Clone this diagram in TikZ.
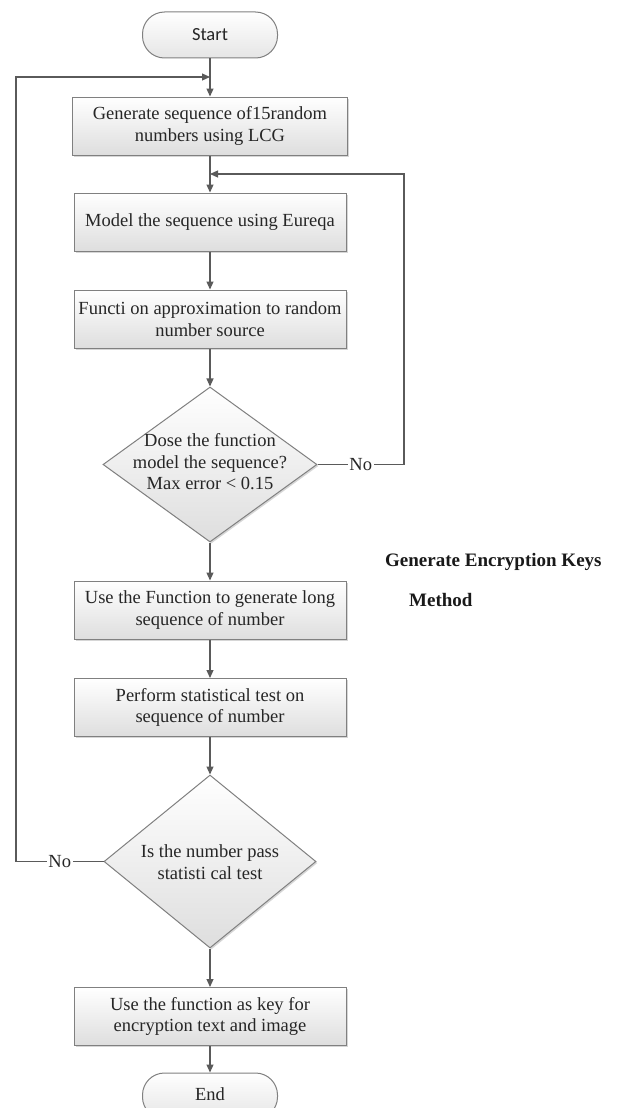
\documentclass[tikz,border=0pt]{standalone}
\usepackage{fontspec}
\setmainfont{Liberation Serif}
\newfontfamily\termfont{Carlito}
\usetikzlibrary{arrows.meta,shapes.geometric,shadows}
\definecolor{linec}{HTML}{5A5A5A}
\definecolor{bordc}{HTML}{808080}
\tikzset{
  boxstyle/.style={draw=bordc, line width=1pt, shading=axis, top color=white, bottom color=black!13,
    minimum width=272pt, minimum height=58pt, inner sep=2pt, align=center,
    font=\fontsize{18.5}{21.5}\selectfont, text=black!85,
    drop shadow={shadow xshift=1.5pt, shadow yshift=-1.5pt, fill=black!35, opacity=0.45}},
  termstyle/.style={draw=bordc, line width=1pt, rectangle, rounded corners=22pt,
    shading=axis, top color=white, bottom color=black!10,
    minimum width=135pt, minimum height=46pt, inner sep=0pt, text=black!85},
  decstyle/.style={draw=bordc, line width=1pt, diamond, inner sep=0pt,
    shading=axis, top color=white, bottom color=black!13,
    drop shadow={shadow xshift=1.5pt, shadow yshift=-1.5pt, fill=black!35, opacity=0.45}},
  txtstyle/.style={align=center, font=\fontsize{18.5}{21.5}\selectfont, text=black!85, inner sep=0pt},
  conn/.style={draw=linec, line width=1.1pt},
  arr/.style={conn, -{Triangle[length=8pt,width=7pt]}},
  nolab/.style={fill=white, inner sep=1.5pt, font=\fontsize{18.5}{21.5}\selectfont, text=black!85},
  titlestyle/.style={font=\fontsize{19}{22}\selectfont\bfseries, text=black!90, inner sep=0pt, anchor=west}
}
\begin{document}
\begin{tikzpicture}[x=1pt,y=-1pt]
\useasboundingbox (0,0) rectangle (618,1108);
\clip (0,0) rectangle (618,1108);
\fill[white] (0,0) rectangle (618,1108);

\node[termstyle, font=\termfont\fontsize{18.5}{21}\selectfont] (start) at (210,35) {Start};
\node[boxstyle, minimum width=275pt] (b1) at (210,126) {Generate sequence of15random\\numbers using LCG};
\node[boxstyle] (b2) at (210,222) {Model the sequence using Eureqa};
\node[boxstyle] (b3) at (210,319) {Functi on approximation to random\\number source};
\node[decstyle, minimum width=214pt, minimum height=155pt] (d1) at (210,464.5) {};
\node[txtstyle] (d1t) at (210,462) {Dose the function\\model the sequence?\\Max error < 0.15};
\node[boxstyle] (b4) at (210,610) {Use the Function to generate long\\sequence of number};
\node[boxstyle] (b5) at (210,707.5) {Perform statistical test on\\sequence of number};
\node[decstyle, minimum width=212pt, minimum height=173pt] (d2) at (210,861.5) {};
\node[txtstyle] (d2t) at (210,862) {Is the number pass\\statisti cal test};
\node[boxstyle] (b6) at (210,1016.5) {Use the function as key for\\encryption text and image};
\node[termstyle, font=\fontsize{18.5}{21}\selectfont] (end) at (210,1096) {\raisebox{3pt}{End}};

\node[titlestyle] (t1) at (385,562) {Generate Encryption Keys};
\node[titlestyle] (t2) at (409,600) {Method};

\coordinate (j0) at (210,77);
\coordinate (j1) at (210,174);
\coordinate (rc) at (404,464.5);
\coordinate (lc) at (16,861.5);

\draw[arr] (start) -- (b1);
\draw[arr] (b1) -- (b2);
\draw[arr] (b2) -- (b3);
\draw[arr] (b3) -- (d1);
\draw[arr] (d1) -- (b4);
\draw[arr] (b4) -- (b5);
\draw[arr] (b5) -- (d2);
\draw[arr] (d2) -- (b6);
\draw[arr] (b6) -- (end);

\draw[arr] (d1.east) -- node[nolab] (no1) {No} (rc) |- (j1);
\draw[arr] (d2.west) -- node[nolab] (no2) {No} (lc) |- (j0);
\end{tikzpicture}
\end{document}
